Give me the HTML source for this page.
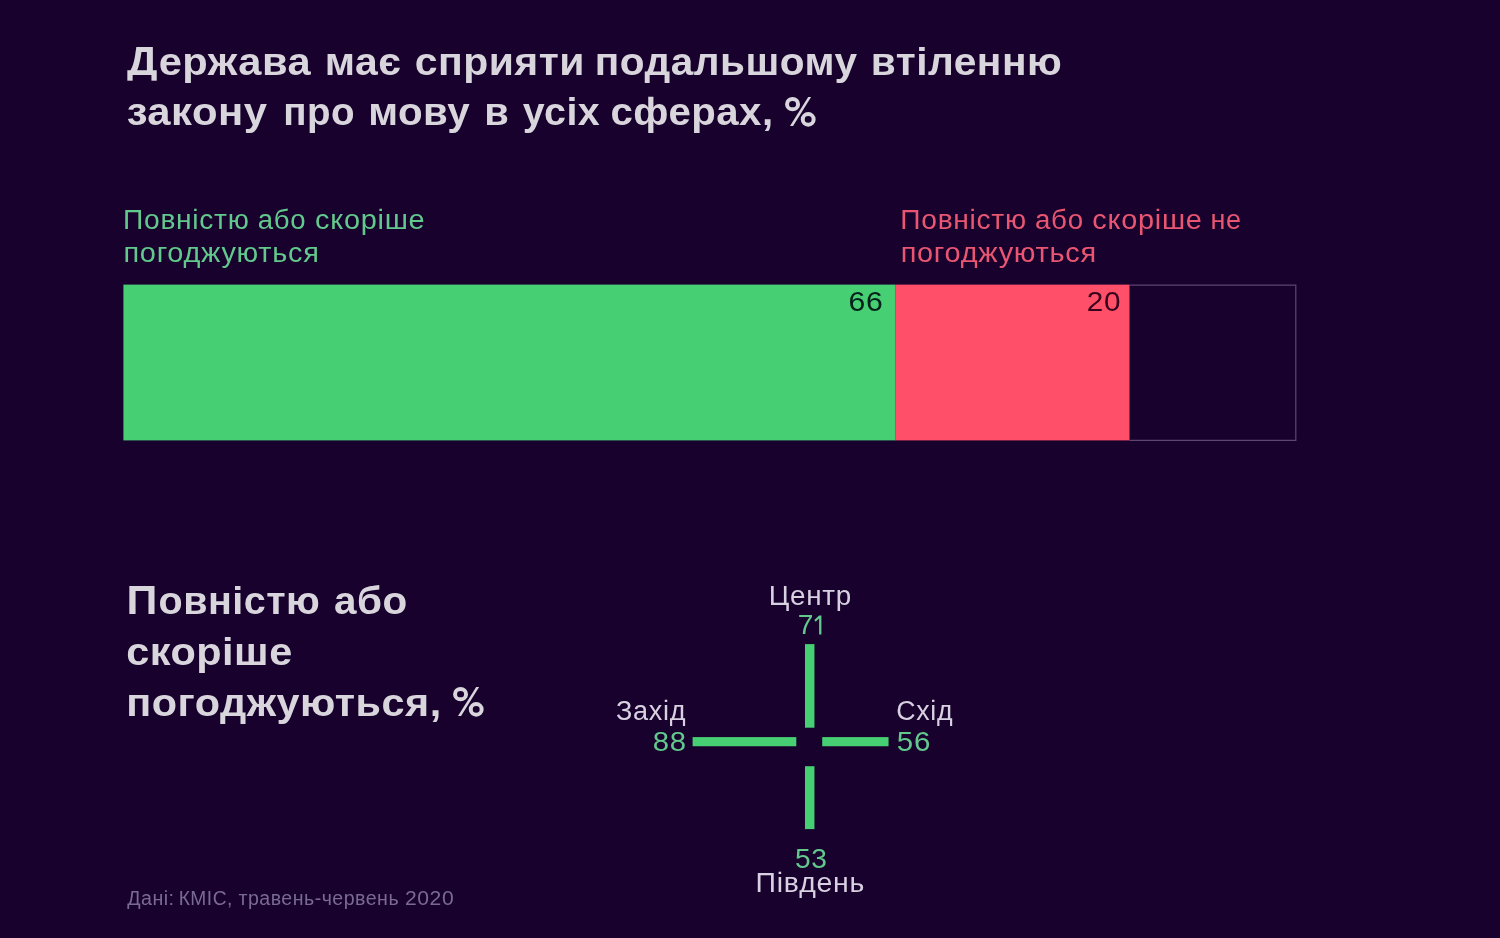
<!DOCTYPE html>
<html lang="uk">
<head>
<meta charset="utf-8">
<title>Chart</title>
<style>
html,body{margin:0;padding:0;}
body{width:1500px;height:938px;background:#19012e;overflow:hidden;}
svg{display:block;will-change:transform;}
text{font-family:"Liberation Sans",sans-serif;}
</style>
</head>
<body>
<svg width="1500" height="938" viewBox="0 0 1500 938">
<rect x="0" y="0" width="1500" height="938" fill="#19012e"/>
<rect x="123.4" y="284.6" width="771.9" height="155.8" fill="#46d073"/>
<rect x="895.2" y="284.6" width="234.3" height="155.8" fill="#ff4f69"/>
<path d="M1129.4 285.1 H1295.8 V440.4 H1129.4" fill="none" stroke="#5c4572" stroke-width="1.2"/>
<rect x="805.0" y="644.1" width="9.45" height="83.6" fill="#46d073"/>
<rect x="805.0" y="766.2" width="9.45" height="62.9" fill="#46d073"/>
<rect x="692.6" y="737.1" width="103.7" height="9.15" fill="#46d073"/>
<rect x="822.2" y="737.1" width="66.35" height="9.15" fill="#46d073"/>
<path d="M819.1 615.4 H821.4 V634.5 H819.1 V618.6 L815.7 621.7 L814.3 619.9 Z" fill="#62c98c"/>
<g transform="translate(0,0)" fill="none" stroke="#d8d6dc" stroke-width="4"><ellipse cx="460.55" cy="694.15" rx="5.5" ry="5.2"/><ellipse cx="476.2" cy="709.4" rx="5.45" ry="5.3"/><polygon points="476.2,687.1 479.1,687.1 461.1,716.0 458.0,716.0" fill="#d8d6dc" stroke="none"/></g>
<g transform="translate(332,-590)" fill="none" stroke="#d8d6dc" stroke-width="4"><ellipse cx="460.55" cy="694.15" rx="5.5" ry="5.2"/><ellipse cx="476.2" cy="709.4" rx="5.45" ry="5.3"/><polygon points="476.2,687.1 479.1,687.1 461.1,716.0 458.0,716.0" fill="#d8d6dc" stroke="none"/></g>
<text x="126.90" y="75.1" font-size="40.8" font-weight="bold" fill="#d8d6dc" letter-spacing="0.490" textLength="31.01" lengthAdjust="spacingAndGlyphs">Д</text>
<text x="158.70" y="75.1" font-size="37.9" font-weight="bold" fill="#d8d6dc" letter-spacing="0.455" textLength="152.54" lengthAdjust="spacingAndGlyphs">ержава</text>
<text x="324.74" y="75.1" font-size="37.9" font-weight="bold" fill="#d8d6dc" letter-spacing="0.455" textLength="76.61" lengthAdjust="spacingAndGlyphs">має</text>
<text x="414.72" y="75.1" font-size="37.9" font-weight="bold" fill="#d8d6dc" letter-spacing="0.455" textLength="170.25" lengthAdjust="spacingAndGlyphs">сприяти</text>
<text x="594.76" y="75.1" font-size="37.9" font-weight="bold" fill="#d8d6dc" letter-spacing="0.455" textLength="262.77" lengthAdjust="spacingAndGlyphs">подальшому</text>
<text x="870.76" y="75.1" font-size="37.9" font-weight="bold" fill="#d8d6dc" letter-spacing="0.455" textLength="191.48" lengthAdjust="spacingAndGlyphs">втіленню</text>
<text x="126.65" y="125.4" font-size="37.9" font-weight="bold" fill="#d8d6dc" letter-spacing="0.455" textLength="140.89" lengthAdjust="spacingAndGlyphs">закону</text>
<text x="283.29" y="125.4" font-size="37.9" font-weight="bold" fill="#d8d6dc" letter-spacing="0.455" textLength="71.73" lengthAdjust="spacingAndGlyphs">про</text>
<text x="368.18" y="125.4" font-size="37.9" font-weight="bold" fill="#d8d6dc" letter-spacing="0.455" textLength="102.05" lengthAdjust="spacingAndGlyphs">мову</text>
<text x="484.20" y="125.4" font-size="37.9" font-weight="bold" fill="#d8d6dc" letter-spacing="0.455" textLength="25.04" lengthAdjust="spacingAndGlyphs">в</text>
<text x="522.70" y="125.4" font-size="37.9" font-weight="bold" fill="#d8d6dc" letter-spacing="0.455" textLength="77.52" lengthAdjust="spacingAndGlyphs">усіх</text>
<text x="610.44" y="125.4" font-size="37.9" font-weight="bold" fill="#d8d6dc" letter-spacing="0.455" textLength="163.11" lengthAdjust="spacingAndGlyphs">сферах,</text>
<text x="123.10" y="228.6" font-size="27" font-weight="normal" fill="#62c98c" letter-spacing="0.675" textLength="126.49" lengthAdjust="spacingAndGlyphs">Повністю</text>
<text x="257.84" y="228.6" font-size="27" font-weight="normal" fill="#62c98c" letter-spacing="0.675" textLength="48.46" lengthAdjust="spacingAndGlyphs">або</text>
<text x="315.10" y="228.6" font-size="27" font-weight="normal" fill="#62c98c" letter-spacing="0.675" textLength="110.30" lengthAdjust="spacingAndGlyphs">скоріше</text>
<text x="123.49" y="262.3" font-size="27" font-weight="normal" fill="#62c98c" letter-spacing="0.675" textLength="196.18" lengthAdjust="spacingAndGlyphs">погоджуються</text>
<text x="900.30" y="228.6" font-size="27" font-weight="normal" fill="#e85672" letter-spacing="0.675" textLength="126.49" lengthAdjust="spacingAndGlyphs">Повністю</text>
<text x="1035.03" y="228.6" font-size="27" font-weight="normal" fill="#e85672" letter-spacing="0.675" textLength="48.78" lengthAdjust="spacingAndGlyphs">або</text>
<text x="1092.30" y="228.6" font-size="27" font-weight="normal" fill="#e85672" letter-spacing="0.675" textLength="110.30" lengthAdjust="spacingAndGlyphs">скоріше</text>
<text x="1210.41" y="228.6" font-size="27" font-weight="normal" fill="#e85672" letter-spacing="0.675" textLength="31.25" lengthAdjust="spacingAndGlyphs">не</text>
<text x="900.69" y="262.3" font-size="27" font-weight="normal" fill="#e85672" letter-spacing="0.675" textLength="196.18" lengthAdjust="spacingAndGlyphs">погоджуються</text>
<text x="848.48" y="311.0" font-size="28.3" font-weight="normal" fill="#04201a" letter-spacing="0.708" textLength="35.09" lengthAdjust="spacingAndGlyphs">66</text>
<text x="1086.81" y="311.0" font-size="28.3" font-weight="normal" fill="#37021b" letter-spacing="0.708" textLength="34.47" lengthAdjust="spacingAndGlyphs">20</text>
<text x="126.52" y="614.4" font-size="40.8" font-weight="bold" fill="#d8d6dc" letter-spacing="0.490" textLength="31.38" lengthAdjust="spacingAndGlyphs">П</text>
<text x="158.57" y="614.4" font-size="37.9" font-weight="bold" fill="#d8d6dc" letter-spacing="0.455" textLength="161.63" lengthAdjust="spacingAndGlyphs">овністю</text>
<text x="334.07" y="614.4" font-size="37.9" font-weight="bold" fill="#d8d6dc" letter-spacing="0.455" textLength="73.64" lengthAdjust="spacingAndGlyphs">або</text>
<text x="126.20" y="665.0" font-size="37.9" font-weight="bold" fill="#d8d6dc" letter-spacing="0.455" textLength="166.53" lengthAdjust="spacingAndGlyphs">скоріше</text>
<text x="126.21" y="715.7" font-size="37.9" font-weight="bold" fill="#d8d6dc" letter-spacing="0.455" textLength="315.43" lengthAdjust="spacingAndGlyphs">погоджуються,</text>
<text x="768.83" y="605.2" font-size="27" font-weight="normal" fill="#d8d1e2" letter-spacing="0.675" textLength="83.10" lengthAdjust="spacingAndGlyphs">Центр</text>
<text x="797.68" y="634.4" font-size="28.3" font-weight="normal" fill="#62c98c" letter-spacing="0.708" textLength="16.37" lengthAdjust="spacingAndGlyphs">7</text>
<text x="615.95" y="719.8" font-size="27" font-weight="normal" fill="#d8d1e2" letter-spacing="0.675" textLength="70.17" lengthAdjust="spacingAndGlyphs">Захід</text>
<text x="652.78" y="750.6" font-size="28.3" font-weight="normal" fill="#62c98c" letter-spacing="0.708" textLength="34.03" lengthAdjust="spacingAndGlyphs">88</text>
<text x="896.25" y="719.8" font-size="27" font-weight="normal" fill="#d8d1e2" letter-spacing="0.675" textLength="56.97" lengthAdjust="spacingAndGlyphs">Схід</text>
<text x="896.88" y="750.6" font-size="28.3" font-weight="normal" fill="#62c98c" letter-spacing="0.708" textLength="34.25" lengthAdjust="spacingAndGlyphs">56</text>
<text x="794.92" y="867.7" font-size="28.3" font-weight="normal" fill="#62c98c" letter-spacing="0.708" textLength="32.72" lengthAdjust="spacingAndGlyphs">53</text>
<text x="755.58" y="892.0" font-size="27" font-weight="normal" fill="#d8d1e2" letter-spacing="0.675" textLength="109.37" lengthAdjust="spacingAndGlyphs">Південь</text>
<text x="127.20" y="904.7" font-size="19.5" font-weight="normal" fill="#786a92" letter-spacing="0.488" textLength="47.37" lengthAdjust="spacingAndGlyphs">Дані:</text>
<text x="178.70" y="904.7" font-size="19.5" font-weight="normal" fill="#786a92" letter-spacing="0.488" textLength="54.11" lengthAdjust="spacingAndGlyphs">КМІС,</text>
<text x="238.49" y="904.7" font-size="19.5" font-weight="normal" fill="#786a92" letter-spacing="0.488" textLength="160.61" lengthAdjust="spacingAndGlyphs">травень-червень</text>
<text x="405.11" y="904.7" font-size="19.5" font-weight="normal" fill="#786a92" letter-spacing="0.488" textLength="49.04" lengthAdjust="spacingAndGlyphs">2020</text>
<rect x="125" y="80.7" width="35" height="4.3" fill="#19012e"/>
</svg>
</body>
</html>
